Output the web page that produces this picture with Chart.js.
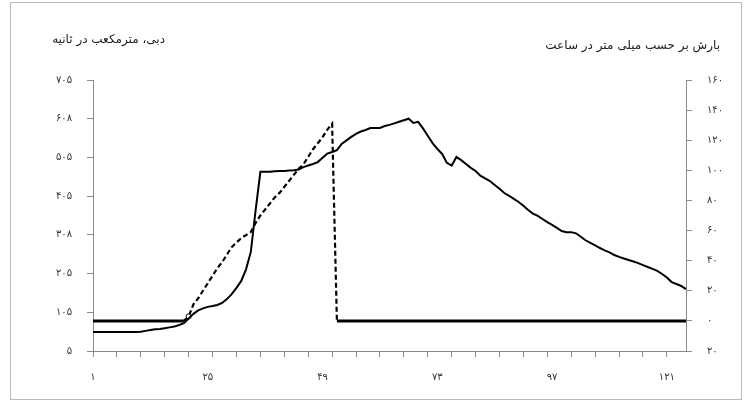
<!DOCTYPE html>
<html>
<head>
<meta charset="utf-8">
<script src="https://cdn.jsdelivr.net/npm/chart.js@4.4.1/dist/chart.umd.min.js"></script>
<style>
  html, body { margin: 0; padding: 0; background: #fff; }
  #wrap { position: relative; width: 748px; height: 407px; }
  #frame { position: absolute; left: 10px; top: 2px; width: 732px; height: 398px; border: 1px solid #bbb; box-sizing: border-box; pointer-events: none; }
</style>
</head>
<body>
<div id="wrap">
  <canvas id="grafico" width="748" height="407"></canvas>
  <div id="frame"></div>
</div>
<script>
// دبی (m3/s) - محور چپ
const debi = [
  54, 54, 54, 54, 54, 54, 54, 54, 54, 54,
  55, 57, 59, 61, 62, 64, 66, 68, 72, 77,
  89, 101, 110, 115, 119, 121, 124, 129, 139, 152,
  168, 186, 216, 261, 368, 468, 468, 468, 469, 470,
  470, 471, 472, 474, 480, 484, 488, 493, 504, 515,
  519, 524, 540, 549, 558, 566, 572, 576, 581, 581,
  581, 586, 589, 593, 597, 601, 605, 594, 597, 580,
  561, 542, 527, 514, 491, 484, 506, 498, 488, 478,
  470, 458, 451, 444, 434, 424, 413, 406, 398, 390,
  380, 369, 360, 354, 346, 338, 331, 323, 315, 312,
  312, 309, 300, 291, 284, 278, 271, 265, 260, 253,
  248, 244, 240, 236, 232, 227, 222, 217, 212, 204,
  195, 183, 178, 173, 165
];

// بارش (mm/h) - محور راست
const barash = [
  0, 0, 0, 0, 0, 0, 0, 0, 0, 0,
  0, 0, 0, 0, 0, 0, 0, 0, 0, 0,
  3, 11, 15, 20, 25, 30, 35, 39, 44, 49,
  52, 55, 57, 59, 65, 70, 74, 78, 82, 85,
  89, 93, 97, 101, 104, 109, 114, 118, 122, 127,
  131, 0, 0, 0, 0, 0, 0, 0, 0, 0,
  0, 0, 0, 0, 0, 0, 0, 0, 0, 0,
  0, 0, 0, 0, 0, 0, 0, 0, 0, 0,
  0, 0, 0, 0, 0, 0, 0, 0, 0, 0,
  0, 0, 0, 0, 0, 0, 0, 0, 0, 0,
  0, 0, 0, 0, 0, 0, 0, 0, 0, 0,
  0, 0, 0, 0, 0, 0, 0, 0, 0, 0,
  0, 0, 0, 0, 0
];

const categorias = debi.map((v, i) => i + 1);
const rotulosX = ["۱", "۲۵", "۴۹", "۷۳", "۹۷", "۱۲۱"];
const rotulosEsq = { 5: "۵", 105: "۱۰۵", 205: "۲۰۵", 305: "۳۰۸", 405: "۴۰۵", 505: "۵۰۵", 605: "۶۰۸", 705: "۷۰۵" };
const rotulosDir = { "-20": "۲۰", 0: "۰", 20: "۲۰", 40: "۴۰", 60: "۶۰", 80: "۸۰", 100: "۱۰۰", 120: "۱۲۰", 140: "۱۴۰", 160: "۱۶۰" };
const tituloEsq = "دبی، مترمکعب در ثانیه";
const tituloDir = "بارش بر حسب میلی متر در ساعت";

const fonte = "DejaVu Sans";
const corEixo = "#8a8a8a";

const titulos = {
  id: "titulos",
  afterDraw(chart) {
    const ctx = chart.ctx;
    ctx.save();
    ctx.fillStyle = "#222";
    ctx.font = "12px '" + fonte + "'";
    ctx.textAlign = "right";
    ctx.textBaseline = "middle";
    ctx.fillText(tituloEsq, 165, 40);
    ctx.fillText(tituloDir, 720, 46);
    ctx.restore();
  },
};

const grafico = new Chart(document.getElementById("grafico"), {
  type: "line",
  data: {
    labels: categorias,
    datasets: [
      {
        label: "دبی",
        data: debi,
        yAxisID: "y",
        borderColor: "#000",
        borderWidth: 2,
        pointRadius: 0,
        tension: 0,
      },
      {
        label: "بارش",
        data: barash,
        yAxisID: "y2",
        borderColor: "#000",
        borderWidth: 2.5,
        pointRadius: (ctx) => (ctx.dataIndex === 20 ? 2.5 : 0),
        pointBackgroundColor: "#fff",
        pointBorderColor: "#000",
        pointBorderWidth: 1,
        tension: 0,
        segment: {
          borderDash: (ctx) =>
            ctx.p0.parsed.y > 0 || ctx.p1.parsed.y > 0 ? [5, 3] : [],
          borderWidth: (ctx) =>
            ctx.p0.parsed.y > 0 || ctx.p1.parsed.y > 0 ? 2.2 : 3,
        },
      },
    ],
  },
  options: {
    responsive: false,
    animation: false,
    layout: { padding: { top: 80, bottom: 0, left: 0, right: 0 } },
    plugins: { legend: { display: false }, tooltip: { enabled: false } },
    scales: {
      x: {
        type: "category",
        offset: false,
        border: { color: corEixo, width: 1 },
        grid: {
          drawOnChartArea: false,
          tickLength: 6,
          color: (ctx) => (ctx.index % 5 === 0 ? corEixo : "rgba(0,0,0,0)"),
        },
        ticks: {
          autoSkip: false,
          maxRotation: 0,
          padding: 14,
          color: "#333",
          font: { family: fonte, size: 10 },
          callback: (val, index) => (index % 24 === 0 ? rotulosX[index / 24] : ""),
        },
        afterFit: (scale) => { scale.height = 56; },
      },
      y: {
        position: "left",
        min: 5,
        max: 705,
        border: { color: corEixo, width: 1 },
        grid: { drawOnChartArea: false, tickLength: 6, color: corEixo },
        ticks: {
          stepSize: 100,
          padding: 15,
          color: "#333",
          font: { family: fonte, size: 10 },
          callback: (val) => rotulosEsq[val] || "",
        },
        afterFit: (scale) => { scale.width = 93; },
      },
      y2: {
        position: "right",
        min: -20,
        max: 160,
        border: { color: corEixo, width: 1 },
        grid: { drawOnChartArea: false, tickLength: 6, color: corEixo },
        ticks: {
          stepSize: 20,
          padding: 15,
          color: "#333",
          font: { family: fonte, size: 10 },
          callback: (val) => rotulosDir[val] || "",
        },
        afterFit: (scale) => { scale.width = 62; },
      },
    },
  },
  plugins: [titulos],
});
</script>
</body>
</html>
